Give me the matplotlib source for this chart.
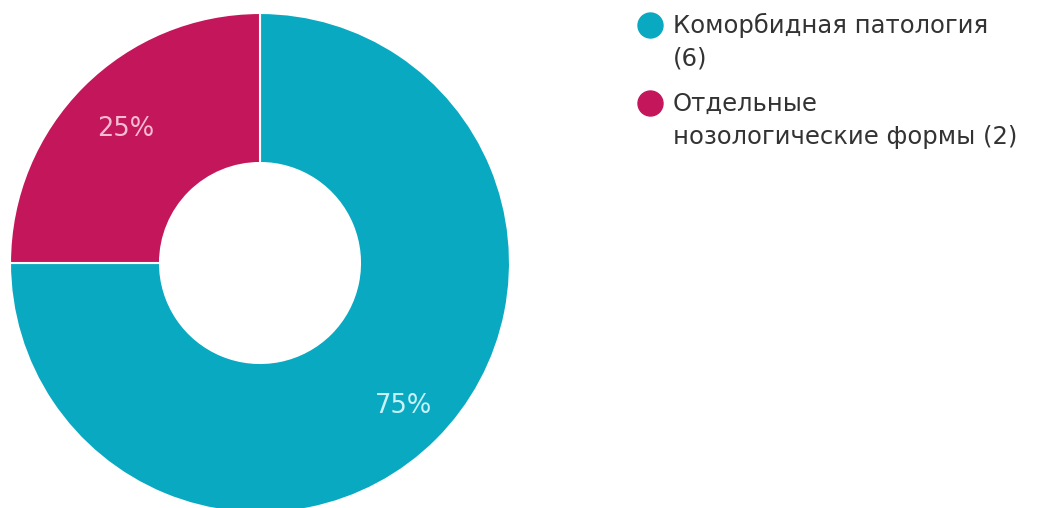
import matplotlib
matplotlib.use("Agg")
import matplotlib.pyplot as plt
from matplotlib.legend_handler import HandlerLine2D
import numpy as np

categories = ["Коморбидная патология\n(6)", "Отдельные\nнозологические формы (2)"]
values = [6, 2]
colors = ["#08A9C1", "#C4165A"]
label_colors = ["#C8F2F8", "#F7BCD3"]
label_dist = [0.81, 0.76]

plt.rcParams['font.family'] = ['DejaVu Sans']
fig = plt.figure(figsize=(10.5, 5.08), dpi=100)
W, H = 1050, 508
cx, cy, R = 260, 263, 250
ax = fig.add_axes([(cx - R) / W, (H - cy - R) / H, 2 * R / W, 2 * R / H])

wedges, _ = ax.pie(values, colors=colors, startangle=90, counterclock=False,
                   radius=1.0, wedgeprops=dict(width=0.6, edgecolor="white", linewidth=1.5))
total = sum(values)
for w, v, c, d in zip(wedges, values, label_colors, label_dist):
    ang = np.deg2rad((w.theta1 + w.theta2) / 2)
    ax.text(d * np.cos(ang), d * np.sin(ang), f"{round(100 * v / total)}%",
            ha="center", va="center", color=c, fontsize=18.5)
ax.set_xlim(-1, 1)
ax.set_ylim(-1, 1)
ax.set_aspect("equal")
ax.axis("off")


class TopHandler(HandlerLine2D):
    def __init__(self, dy, **kw):
        super().__init__(**kw)
        self.dy = dy

    def create_artists(self, legend, orig_handle, xdescent, ydescent,
                       width, height, fontsize, trans):
        return super().create_artists(legend, orig_handle, xdescent,
                                      ydescent - 2 * self.dy, width, height,
                                      fontsize, trans)


handles = [plt.Line2D([], [], marker="o", linestyle="", markersize=18,
                      markerfacecolor=c, markeredgecolor=c) for c in colors]
leg = fig.legend(handles, categories, loc="upper left",
                 bbox_to_anchor=(638 / W, 1 - 12.5 / H), frameon=False,
                 fontsize=17.5, handletextpad=0.44, labelspacing=0.85,
                 handlelength=1.0, borderaxespad=0, borderpad=0,
                 handler_map={plt.Line2D: TopHandler(12.6)})
for t in leg.get_texts():
    t.set_linespacing(1.48)
    t.set_color("#333333")

fig.savefig("out.png", dpi=100, facecolor="white")
